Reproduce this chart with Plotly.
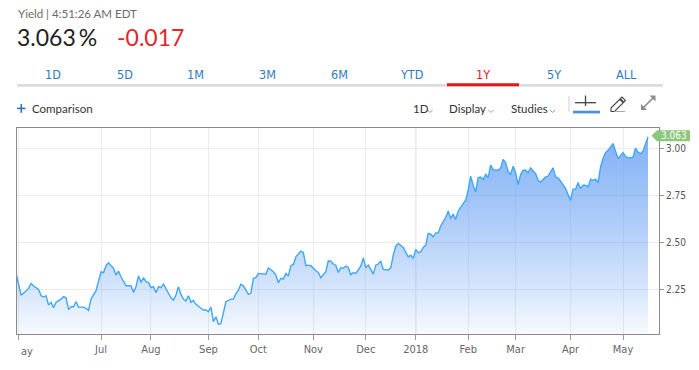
import plotly.graph_objects as go

# ---------------- data ----------------
# trading-day index (0 = mid-May 2017) and 10Y yield values
day_index = [0, 2, 3, 5, 6, 7, 9, 10, 11, 12, 13, 14, 15, 16, 18, 19, 20, 21, 22, 23, 24, 25, 27, 28, 29, 30,
             32, 33, 34, 35, 36, 37, 38, 39, 40, 41, 42, 44, 46, 47, 48, 49, 50, 51, 52, 53, 54, 55, 56, 57,
             58, 59, 61, 62, 63, 64, 65, 66, 67, 68, 69, 70, 71, 72, 74, 75, 76, 77, 78, 79, 80, 81, 82, 83,
             84, 86, 87, 88, 89, 90, 91, 93, 94, 95, 96, 97, 98, 100, 101, 102, 103, 104, 105, 106, 107, 108,
             109, 110, 111, 112, 114, 115, 116, 117, 118, 120, 121, 122, 123, 124, 125, 126, 127, 128, 129,
             130, 131, 132, 133, 134, 135, 136, 138, 139, 140, 141, 142, 143, 144, 145, 146, 147, 149, 150,
             151, 152, 153, 154, 155, 157, 158, 159, 160, 161, 162, 163, 164, 165, 166, 167, 168, 169, 170,
             172, 173, 174, 175, 176, 177, 179, 180, 181, 182, 183, 184, 185, 186, 187, 188, 189, 190, 191,
             193, 194, 195, 196, 197, 198, 199, 200, 201, 202, 203, 204, 205, 206, 208, 209, 210, 212, 213,
             214, 215, 216, 217, 218, 220, 221, 222, 223, 224, 225, 226, 227, 228, 229, 230, 231, 232, 233,
             234, 235, 236, 237, 239, 240, 241, 243, 244, 245, 247, 248, 249, 250, 251, 253]

yield_values = [2.335, 2.220, 2.229, 2.255, 2.282, 2.268, 2.250, 2.216, 2.209, 2.216, 2.166, 2.181, 2.152,
                2.181, 2.198, 2.211, 2.205, 2.142, 2.157, 2.157, 2.184, 2.156, 2.155, 2.149, 2.138, 2.198,
                2.243, 2.294, 2.344, 2.338, 2.376, 2.392, 2.376, 2.362, 2.326, 2.347, 2.317, 2.269, 2.269,
                2.234, 2.264, 2.322, 2.287, 2.312, 2.290, 2.287, 2.259, 2.264, 2.232, 2.264, 2.259, 2.278,
                2.229, 2.205, 2.193, 2.220, 2.264, 2.223, 2.198, 2.188, 2.216, 2.181, 2.191, 2.170, 2.149,
                2.140, 2.140, 2.131, 2.156, 2.078, 2.104, 2.064, 2.067, 2.131, 2.184, 2.198, 2.198, 2.227,
                2.246, 2.277, 2.269, 2.223, 2.230, 2.309, 2.312, 2.335, 2.333, 2.331, 2.365, 2.354, 2.344,
                2.326, 2.285, 2.309, 2.305, 2.335, 2.321, 2.376, 2.383, 2.423, 2.454, 2.447, 2.376, 2.379,
                2.376, 2.349, 2.340, 2.312, 2.330, 2.344, 2.402, 2.400, 2.385, 2.379, 2.340, 2.365, 2.362,
                2.374, 2.367, 2.328, 2.340, 2.335, 2.374, 2.418, 2.367, 2.379, 2.356, 2.331, 2.379, 2.385,
                2.402, 2.356, 2.353, 2.365, 2.432, 2.480, 2.495, 2.482, 2.473, 2.423, 2.432, 2.415, 2.463,
                2.445, 2.450, 2.473, 2.486, 2.548, 2.544, 2.530, 2.551, 2.551, 2.587, 2.633, 2.668, 2.628,
                2.651, 2.622, 2.668, 2.707, 2.725, 2.778, 2.853, 2.805, 2.769, 2.846, 2.849, 2.835, 2.863,
                2.846, 2.913, 2.888, 2.885, 2.897, 2.943, 2.926, 2.879, 2.862, 2.907, 2.872, 2.809, 2.862,
                2.885, 2.885, 2.872, 2.897, 2.867, 2.831, 2.822, 2.849, 2.854, 2.876, 2.897, 2.849, 2.844,
                2.826, 2.787, 2.755, 2.725, 2.784, 2.784, 2.819, 2.787, 2.805, 2.805, 2.796, 2.837, 2.831,
                2.837, 2.819, 2.902, 2.947, 2.979, 2.991, 3.027, 2.986, 2.947, 2.979, 2.959, 2.950, 2.955,
                3.003, 2.982, 2.973, 2.986, 3.063]

month_tick_index = [1, 34, 54, 77, 97, 119, 140, 160, 181, 200, 222, 243]
month_tick_labels = ["", "Jul", "Aug", "Sep", "Oct", "Nov", "Dec", "2018", "Feb", "Mar", "Apr", "May"]
year_break_index = 160

y_tick_values = [2.25, 2.50, 2.75, 3.00]
y_tick_labels = ["2.25", "2.50", "2.75", "3.00"]

range_tabs = ["1D", "5D", "1M", "3M", "6M", "YTD", "1Y", "5Y", "ALL"]
active_tab = "1Y"
last_value = 3.063
change_value = -0.017
header_text = "Yield | 4:51:26 AM EDT"

# ---------------- geometry helpers ----------------
# the page body has an 8px margin, so the figure is drawn 8px smaller and
# all screen coordinates below are shifted by that offset
OFF = 8
W, H = 699 - OFF, 370 - OFF
PL, PT, PW, PH = 17 - OFF, 128 - OFF, 642, 206


def px(x):
    return (x - OFF - PL) / PW


def py(y):
    return (PT + PH - (y - OFF)) / PH


NARROW = "Liberation Sans Narrow, DejaVu Sans Condensed, Arial Narrow, Roboto, sans-serif"
SANS = "Lato, Open Sans, Roboto, sans-serif"

fig = go.Figure()

fig.add_trace(go.Scatter(
    x=day_index, y=yield_values, mode="lines",
    line=dict(color="#3fa7f6", width=1.4),
    fill="tozeroy",
    fillgradient=dict(
        type="vertical",
        start=2.012, stop=3.11,
        colorscale=[[0.0, "rgba(90,152,242,0.05)"],
                    [0.22, "rgba(90,152,242,0.25)"],
                    [0.45, "rgba(90,152,242,0.42)"],
                    [0.67, "rgba(90,152,242,0.58)"],
                    [1.0, "rgba(90,152,242,0.78)"]],
    ),
    hoverinfo="skip", showlegend=False,
))

shapes = []
annotations = []

# darker year-boundary gridline
shapes.append(dict(type="line", xref="x", yref="paper", x0=year_break_index, x1=year_break_index,
                   y0=0, y1=1, line=dict(color="#c4c4c4", width=1), layer="below"))

# green last-value tag
tag = f"M {px(651.5)},{py(135.8)} L {px(657)},{py(130.3)} L {px(690)},{py(130.3)} " \
      f"L {px(690)},{py(141.3)} L {px(657)},{py(141.3)} Z"
shapes.append(dict(type="path", xref="paper", yref="paper", path=tag,
                   fillcolor="#8cc77c", line=dict(width=0), layer="above"))
annotations.append(dict(xref="paper", yref="paper", x=px(674), y=py(135.8), text=f"{last_value:.3f}",
                        showarrow=False, font=dict(family=NARROW, size=10, color="white"),
                        xanchor="center", yanchor="middle"))

# clipped first month label
annotations.append(dict(xref="paper", yref="paper", x=px(18.5), y=py(351), text="ay", showarrow=False,
                        font=dict(family=NARROW, size=11, color="#666666"),
                        xanchor="left", yanchor="middle"))

# ---------- header ----------
annotations.append(dict(xref="paper", yref="paper", x=px(16), y=py(13), text=header_text, showarrow=False,
                        font=dict(family=SANS, size=11.5, color="#6b6b6b"), xanchor="left", yanchor="middle"))
annotations.append(dict(xref="paper", yref="paper", x=px(15), y=py(37), text=f"{last_value:.3f}\u2009%",
                        showarrow=False, font=dict(family=SANS, size=23, color="#1e1e1e"),
                        xanchor="left", yanchor="middle"))
annotations.append(dict(xref="paper", yref="paper", x=px(115), y=py(37), text=f"{change_value:.3f}",
                        showarrow=False, font=dict(family=SANS, size=23, color="#e0262b"),
                        xanchor="left", yanchor="middle"))

# tabs
tab_centers = [53, 124.5, 196, 267.5, 339.5, 411, 482.5, 554, 626.5]
for lab, cx in zip(range_tabs, tab_centers):
    col = "#e8141c" if lab == active_tab else "#2f7bbf"
    annotations.append(dict(xref="paper", yref="paper", x=px(cx), y=py(74.5), text=lab, showarrow=False,
                            font=dict(family=NARROW, size=12.5, color=col), xanchor="center",
                            yanchor="middle"))
shapes.append(dict(type="rect", xref="paper", yref="paper", x0=px(17), x1=px(663), y0=py(84), y1=py(86.8),
                   fillcolor="#dcdcdc", line=dict(width=0)))
shapes.append(dict(type="rect", xref="paper", yref="paper", x0=px(447), x1=px(519), y0=py(83.3),
                   y1=py(86.3), fillcolor="#e8141c", line=dict(width=0)))

# comparison
shapes.append(dict(type="rect", xref="paper", yref="paper", x0=px(17), x1=px(25.5), y0=py(107.6),
                   y1=py(109.2), fillcolor="#2d72c4", line=dict(width=0)))
shapes.append(dict(type="rect", xref="paper", yref="paper", x0=px(20.5), x1=px(22.1), y0=py(104),
                   y1=py(112.8), fillcolor="#2d72c4", line=dict(width=0)))
annotations.append(dict(xref="paper", yref="paper", x=px(30), y=py(108.3), text="Comparison", showarrow=False,
                        font=dict(family=SANS, size=11.5, color="#333333"), xanchor="left", yanchor="middle"))

# toolbar menus
for lab, x0, chev in [("1D", 410.5, 430), ("Display", 447, 491), ("Studies", 509, 552.5)]:
    annotations.append(dict(xref="paper", yref="paper", x=px(x0), y=py(108.3), text=lab, showarrow=False,
                            font=dict(family=SANS, size=11.5, color="#333333"), xanchor="left",
                            yanchor="middle"))
    shapes.append(dict(type="path", xref="paper", yref="paper",
                       path=f"M {px(chev-2.5)},{py(110)} L {px(chev)},{py(112.5)} L {px(chev+2.5)},{py(110)}",
                       line=dict(color="#999999", width=1)))

# separator
shapes.append(dict(type="line", xref="paper", yref="paper", x0=px(569), x1=px(569), y0=py(96), y1=py(112),
                   line=dict(color="#d0d0d0", width=1)))
# crosshair icon
shapes.append(dict(type="line", xref="paper", yref="paper", x0=px(575), x1=px(596), y0=py(102.7),
                   y1=py(102.7), line=dict(color="#444444", width=1.3)))
shapes.append(dict(type="line", xref="paper", yref="paper", x0=px(585.5), x1=px(585.5), y0=py(95.5),
                   y1=py(106), line=dict(color="#444444", width=1.3)))
shapes.append(dict(type="rect", xref="paper", yref="paper", x0=px(573), x1=px(600), y0=py(110.7),
                   y1=py(113.4), fillcolor="#4a90e2", line=dict(width=0)))
# pencil icon
pencil = f"M {px(611)},{py(108)} L {px(622)},{py(97)} L {px(625.5)},{py(100.5)} L {px(614.5)},{py(111.5)} " \
         f"L {px(611)},{py(111.5)} Z"
shapes.append(dict(type="path", xref="paper", yref="paper", path=pencil,
                   line=dict(color="#444444", width=1.1)))
shapes.append(dict(type="path", xref="paper", yref="paper",
                   path=f"M {px(620)},{py(99)} L {px(623.5)},{py(102.5)}", line=dict(color="#444444", width=2)))
shapes.append(dict(type="line", xref="paper", yref="paper", x0=px(614.5), x1=px(625), y0=py(111.5),
                   y1=py(111.5), line=dict(color="#aaaaaa", width=1)))
# expand icon
exp_col = "#8a8a8a"
shapes.append(dict(type="line", xref="paper", yref="paper", x0=px(642), x1=px(654.5), y0=py(109),
                   y1=py(96.5), line=dict(color=exp_col, width=1.6)))
shapes.append(dict(type="path", xref="paper", yref="paper",
                   path=f"M {px(649.5)},{py(95.5)} L {px(655.5)},{py(95.5)} L {px(655.5)},{py(101.5)} Z",
                   fillcolor=exp_col, line=dict(width=0)))
shapes.append(dict(type="path", xref="paper", yref="paper",
                   path=f"M {px(641)},{py(104)} L {px(641)},{py(110)} L {px(647)},{py(110)} Z",
                   fillcolor=exp_col, line=dict(width=0)))

fig.update_layout(
    width=W, height=H,
    margin=dict(l=PL, r=W - PL - PW, t=PT, b=H - PT - PH, autoexpand=False),
    paper_bgcolor="white", plot_bgcolor="white",
    showlegend=False,
    shapes=shapes, annotations=annotations,
    xaxis=dict(
        range=[0.36, 257.4],
        tickmode="array", tickvals=month_tick_index, ticktext=month_tick_labels,
        ticks="outside", ticklen=5, tickcolor="#999999", tickwidth=1,
        showgrid=True, gridcolor="#ececec", gridwidth=1,
        showline=True, mirror=True, linecolor="#8a8a8a", linewidth=1,
        zeroline=False,
        tickfont=dict(family=NARROW, size=11, color="#666666"),
        fixedrange=True,
    ),
    yaxis=dict(
        side="right",
        range=[2.012, 3.11],
        tickmode="array", tickvals=y_tick_values, ticktext=y_tick_labels,
        ticks="outside", ticklen=4, tickcolor="#999999",
        showgrid=True, gridcolor="#ececec", gridwidth=1,
        showline=True, mirror=True, linecolor="#8a8a8a", linewidth=1,
        zeroline=False,
        tickfont=dict(family=NARROW, size=10, color="#555555"),
        fixedrange=True,
    ),
)

fig.write_html("out.html")
